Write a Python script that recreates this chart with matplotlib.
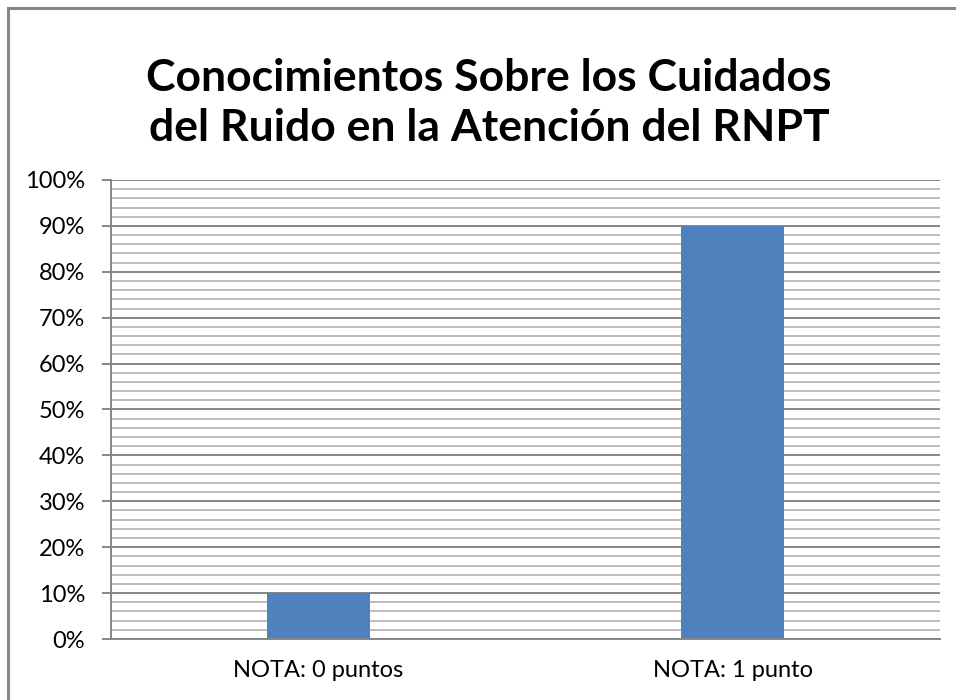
import matplotlib
matplotlib.use("Agg")
import matplotlib.pyplot as plt
from matplotlib.ticker import MultipleLocator, FuncFormatter
from matplotlib.patches import Rectangle

categories = ["NOTA: 0 puntos", "NOTA: 1 punto"]
values = [0.10, 0.90]
title = "Conocimientos Sobre los Cuidados\ndel Ruido en la Atención del RNPT"

W, H = 956, 700
fig = plt.figure(figsize=(W / 100, H / 100), dpi=100)
fig.patch.set_facecolor("white")

# outer chart frame (cut off at right/bottom)
fig.patches.append(Rectangle((8 / W, -0.1), 1.2, (H - 8) / H + 0.1, transform=fig.transFigure,
                             fill=False, edgecolor="#868686", linewidth=2.2))

left, right, top, bottom = 111, 940, 180, 639
ax = fig.add_axes([left / W, (H - bottom) / H, (right - left) / W, (bottom - top) / H])

x = list(range(len(categories)))
ax.bar(x, values, width=0.248, color="#4f81bd", zorder=3)

ax.set_xlim(-0.5, len(categories) - 0.5)
ax.set_ylim(0, 1.0)
ax.yaxis.set_major_locator(MultipleLocator(0.1))
ax.yaxis.set_minor_locator(MultipleLocator(0.02))
ax.yaxis.set_major_formatter(FuncFormatter(lambda v, p: f"{round(v * 100)}%"))
ax.set_xticks(x)
ax.set_xticklabels(categories)

font = "Lato"
for lbl in ax.get_xticklabels() + ax.get_yticklabels():
    lbl.set_fontfamily(font)
    lbl.set_fontsize(17)
    lbl.set_color("black")

ax.grid(which="major", axis="y", color="#868686", linewidth=1.4, zorder=0)
ax.grid(which="minor", axis="y", color="#bcbcbc", linewidth=1.4, zorder=0)
ax.tick_params(axis="y", which="major", length=6.5, width=1.4, color="#868686", direction="out", pad=12)
ax.tick_params(axis="y", which="minor", length=0)
ax.tick_params(axis="x", length=0, pad=15)

for s in ["top", "right"]:
    ax.spines[s].set_visible(False)
for s in ["left", "bottom"]:
    ax.spines[s].set_color("#868686")
    ax.spines[s].set_linewidth(1.4)
    ax.spines[s].set_zorder(4)

fig.text(489 / W, 1 - 103 / H, title, ha="center", va="center", fontsize=32,
         fontweight="bold", fontfamily=font, linespacing=1.32)

fig.savefig("out.png", dpi=100)
